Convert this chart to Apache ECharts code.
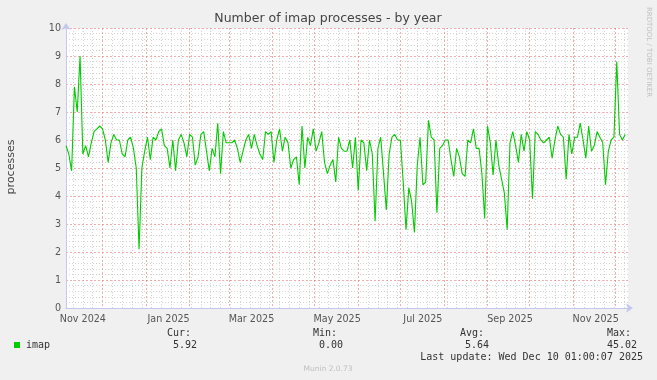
<!DOCTYPE html>
<html>
<head>
<meta charset="utf-8">
<script src="https://cdn.jsdelivr.net/npm/echarts@6/dist/echarts.min.js"></script>
<style>
html,body{margin:0;padding:0;background:#f0f0f0;}
#c{width:657px;height:380px;}
</style>
</head>
<body>
<div id="c"></div>
<script>
// ---- data (2-day samples starting 2024-11-05) ----
const startDate = '2024-11-05';
const stepDays = 2;
const imapValues = [
5.8,5.5,4.9,7.9,7.0,9.0,5.5,5.8,5.4,5.9,
6.3,6.4,6.5,6.4,6.0,5.2,5.9,6.2,6.0,6.0,
5.5,5.4,6.0,6.1,5.7,5.0,2.1,5.0,5.6,6.1,
5.3,6.1,6.0,6.3,6.4,5.8,5.7,5.0,6.0,4.9,
6.0,6.2,5.9,5.4,6.2,6.1,5.1,5.4,6.2,6.3,
5.6,4.9,5.7,5.4,6.6,4.8,6.3,5.9,5.9,5.9,
6.0,5.7,5.2,5.6,6.0,6.2,5.7,6.2,5.8,5.5,
5.3,6.3,6.2,6.3,5.2,6.0,6.4,5.6,6.1,5.9,
5.0,5.3,5.4,4.4,6.5,5.0,6.1,5.8,6.4,5.6,
5.9,6.3,5.2,4.8,5.1,5.3,4.5,6.1,5.7,5.6,
5.6,6.0,5.0,6.1,4.2,6.0,5.9,4.9,6.0,5.5,
3.1,5.7,6.1,4.8,3.5,5.5,6.1,6.2,6.0,6.0,
4.5,2.8,4.3,3.8,2.7,5.1,6.1,4.4,4.5,6.7,
6.1,6.0,3.4,5.7,5.8,6.0,6.0,5.3,4.7,5.7,
5.4,4.8,4.7,6.0,5.9,6.4,5.7,5.7,4.8,3.2,
6.5,5.9,4.75,6.0,5.1,4.6,4.1,2.8,5.9,6.3,
5.8,5.2,6.2,5.6,6.3,6.0,3.9,6.3,6.2,6.0,
5.9,6.0,6.1,5.35,6.0,6.5,6.2,6.1,4.6,6.2,
5.5,6.1,6.1,6.6,6.0,5.35,6.5,5.6,5.8,6.3,
6.1,5.9,4.4,5.6,6.0,6.1,8.8,6.2,6.0,6.2
];
const totalDays = 400;
const monthNames = ['Jan','Feb','Mar','Apr','May','Jun','Jul','Aug','Sep','Oct','Nov','Dec'];
const labelMonths = [10,0,2,4,6,8];   // months that get a label
const labelDayOfMonth = 17;
const yTicks = [0,1,2,3,4,5,6,7,8,9,10];
const legendStats = {cur:'5.92', min:'0.00', avg:'5.64', max:'45.02'};
const lastUpdate = 'Last update: Wed Dec 10 01:00:07 2025';

// ---- categories ----
const DAY = 86400000;
const start = Date.parse(startDate + 'T00:00:00Z');
const dayStr = i => new Date(start + i*DAY).toISOString().slice(0,10);
const dailyCats = Array.from({length: totalDays+1}, (_, i) => dayStr(i));
const sampleCats = Array.from({length: totalDays/stepDays+1}, (_, i) => dayStr(i*stepDays));
const asDate = v => new Date(v + 'T00:00:00Z');

const chart = echarts.init(document.getElementById('c'), null, {renderer:'canvas'});
const RED = 'rgba(230,120,120,0.6)';
const GREY = '#d4d4d4';
const AX = '#c4c8ee';
const FONT = 'DejaVu Sans';

chart.setOption({
  animation:false,
  backgroundColor:'#f0f0f0',
  grid:{left:66, top:28, width:562, height:280, show:true, backgroundColor:'#ffffff', borderWidth:0},
  xAxis:[
    {type:'category', data:sampleCats, boundaryGap:false, show:true,
      axisLine:{show:false}, axisTick:{show:false}, axisLabel:{show:false}, splitLine:{show:false}},
    {type:'category', data:dailyCats, boundaryGap:false, position:'bottom', z:3,
      axisLine:{show:true, lineStyle:{color:AX, width:1}, symbol:['none','arrow'], symbolSize:[7,7], symbolOffset:[0,5]},
      axisTick:{show:false},
      axisLabel:{show:true, margin:6, color:'#555', fontFamily:FONT, fontSize:9.6,
        interval:(i,v)=>{const d=asDate(v); return d.getUTCDate()===labelDayOfMonth && labelMonths.includes(d.getUTCMonth());},
        formatter:v=>{const d=asDate(v); return monthNames[d.getUTCMonth()]+' '+d.getUTCFullYear();}},
      splitLine:{show:true, interval:(i,v)=>asDate(v).getUTCDate()===1, lineStyle:{color:RED, type:[2,2], width:1}}},
    {type:'category', data:dailyCats, boundaryGap:false, z:1,
      axisLine:{show:false}, axisTick:{show:false}, axisLabel:{show:false},
      splitLine:{show:true, interval:(i,v)=>asDate(v).getUTCDay()===0 && asDate(v).getUTCDate()!==1, lineStyle:{color:GREY, type:[1,2], width:1}}}
  ],
  yAxis:[{type:'value', min:yTicks[0], max:yTicks[yTicks.length-1], interval:1, z:3,
    axisLine:{show:true, lineStyle:{color:AX, width:1}, symbol:['none','arrow'], symbolSize:[7,7], symbolOffset:[0,5]},
    axisTick:{show:false},
    axisLabel:{margin:5, color:'#555', fontFamily:FONT, fontSize:9.6},
    splitLine:{show:true, lineStyle:{color:RED, type:[2,2], width:1}},
    minorTick:{show:false, splitNumber:5},
    minorSplitLine:{show:true, lineStyle:{color:GREY, type:[1,2], width:1}}
  }],
  series:[{type:'line', xAxisIndex:0, yAxisIndex:0, data:imapValues, showSymbol:false, symbol:'none',
    lineStyle:{color:'#00cc00', width:1.1}, z:10}],
  graphic:[
    {type:'text', x:328, y:19, style:{text:'Number of imap processes - by year', fill:'#444', font:'12.5px "DejaVu Sans"', textAlign:'center', textVerticalAlign:'middle', align:'center', verticalAlign:'middle'}},
    {type:'text', x:11, y:167, rotation:Math.PI/2, style:{text:'processes', fill:'#444', font:'11px "DejaVu Sans"', textAlign:'center', textVerticalAlign:'middle', align:'center', verticalAlign:'middle'}},
    {type:'text', x:649, y:52, rotation:-Math.PI/2, style:{text:'RRDTOOL / TOBI OETIKER', fill:'#c0c0c0', font:'7px "DejaVu Sans"', textAlign:'center', textVerticalAlign:'middle', align:'center', verticalAlign:'middle'}},
    {type:'rect', shape:{x:14, y:342, width:6, height:6}, style:{fill:'#00cc00'}},
    {type:'text', x:26, y:345, style:{text:'imap', fill:'#333', font:'10px "DejaVu Sans Mono"', textAlign:'left', textVerticalAlign:'middle', align:'left', verticalAlign:'middle'}},
    {type:'text', x:191, y:333, style:{text:'Cur:', fill:'#333', font:'10px "DejaVu Sans Mono"', textAlign:'right', textVerticalAlign:'middle', align:'right', verticalAlign:'middle'}},
    {type:'text', x:197, y:345, style:{text:legendStats.cur, fill:'#333', font:'10px "DejaVu Sans Mono"', textAlign:'right', textVerticalAlign:'middle', align:'right', verticalAlign:'middle'}},
    {type:'text', x:337, y:333, style:{text:'Min:', fill:'#333', font:'10px "DejaVu Sans Mono"', textAlign:'right', textVerticalAlign:'middle', align:'right', verticalAlign:'middle'}},
    {type:'text', x:343, y:345, style:{text:legendStats.min, fill:'#333', font:'10px "DejaVu Sans Mono"', textAlign:'right', textVerticalAlign:'middle', align:'right', verticalAlign:'middle'}},
    {type:'text', x:484, y:333, style:{text:'Avg:', fill:'#333', font:'10px "DejaVu Sans Mono"', textAlign:'right', textVerticalAlign:'middle', align:'right', verticalAlign:'middle'}},
    {type:'text', x:489, y:345, style:{text:legendStats.avg, fill:'#333', font:'10px "DejaVu Sans Mono"', textAlign:'right', textVerticalAlign:'middle', align:'right', verticalAlign:'middle'}},
    {type:'text', x:631, y:333, style:{text:'Max:', fill:'#333', font:'10px "DejaVu Sans Mono"', textAlign:'right', textVerticalAlign:'middle', align:'right', verticalAlign:'middle'}},
    {type:'text', x:637, y:345, style:{text:legendStats.max, fill:'#333', font:'10px "DejaVu Sans Mono"', textAlign:'right', textVerticalAlign:'middle', align:'right', verticalAlign:'middle'}},
    {type:'text', x:643, y:357, style:{text:lastUpdate, fill:'#333', font:'10px "DejaVu Sans Mono"', textAlign:'right', textVerticalAlign:'middle', align:'right', verticalAlign:'middle'}},
    {type:'text', x:328, y:369, style:{text:'Munin 2.0.73', fill:'#c0c0c0', font:'7.5px "DejaVu Sans"', textAlign:'center', textVerticalAlign:'middle', align:'center', verticalAlign:'middle'}}
  ]
});
</script>
</body>
</html>
